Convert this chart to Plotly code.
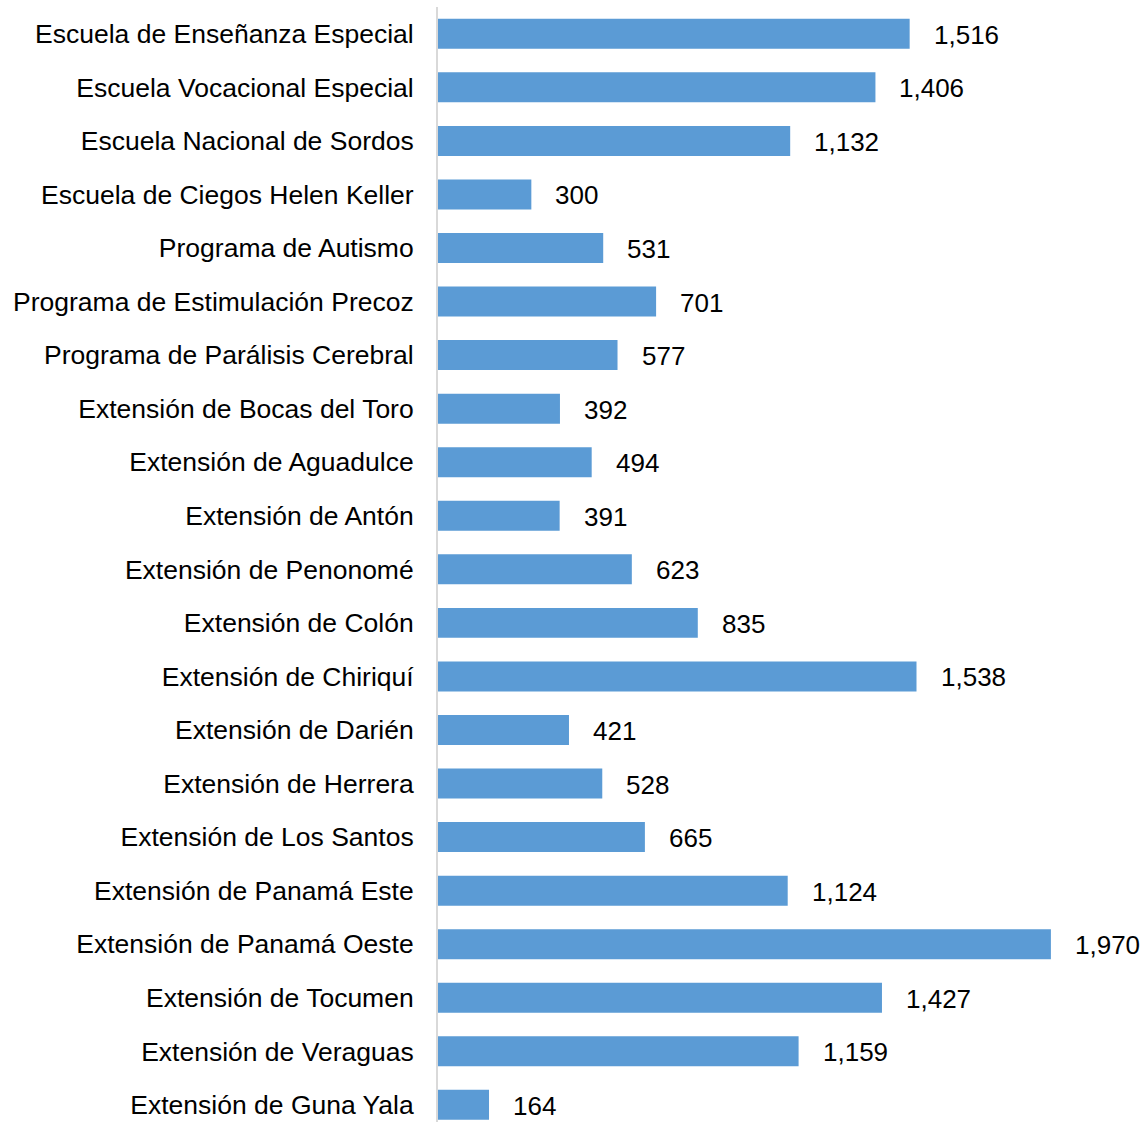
import plotly.graph_objects as go

categories = [
    "Escuela de Enseñanza Especial",
    "Escuela Vocacional Especial",
    "Escuela Nacional de Sordos",
    "Escuela de Ciegos Helen Keller",
    "Programa de Autismo",
    "Programa de Estimulación Precoz",
    "Programa de Parálisis Cerebral",
    "Extensión de Bocas del Toro",
    "Extensión de Aguadulce",
    "Extensión de Antón",
    "Extensión de Penonomé",
    "Extensión de Colón",
    "Extensión de Chiriquí",
    "Extensión de Darién",
    "Extensión de Herrera",
    "Extensión de Los Santos",
    "Extensión de Panamá Este",
    "Extensión de Panamá Oeste",
    "Extensión de Tocumen",
    "Extensión de Veraguas",
    "Extensión de Guna Yala",
]
values = [1516, 1406, 1132, 300, 531, 701, 577, 392, 494, 391, 623, 835,
          1538, 421, 528, 665, 1124, 1970, 1427, 1159, 164]

FONT = "Liberation Sans, Arial, sans-serif"

fig = go.Figure()
fig.add_trace(go.Bar(
    x=values, y=categories, orientation="h",
    marker=dict(color="#5B9BD5", line=dict(width=0)),
    width=0.56,
    hoverinfo="skip",
))

for c, v in zip(categories, values):
    fig.add_annotation(
        x=v, y=c, text=f"{v:,}", showarrow=False,
        xanchor="left", xshift=22, yshift=-1,
        font=dict(family=FONT, size=26, color="#000000"),
    )

fig.update_layout(
    width=1143, height=1122,
    margin=dict(l=438, r=0, t=7, b=0),
    paper_bgcolor="white", plot_bgcolor="white",
    showlegend=False,
    font=dict(family=FONT, size=26, color="#000000"),
    xaxis=dict(range=[0, 2266], showgrid=False, zeroline=False, showticklabels=False,
               showline=False, ticks=""),
    yaxis=dict(categoryorder="array", categoryarray=categories,
               range=[20.32, -0.5], showgrid=False, zeroline=False,
               showline=True, linecolor="#D9D9D9", linewidth=2,
               ticks="outside", ticklen=17, tickcolor="rgba(0,0,0,0)",
               tickfont=dict(family=FONT, size=26.5)),
)

fig.write_html("out.html", config={"displayModeBar": False},
               post_script="document.body.style.margin='0';document.body.style.overflow='hidden';")
